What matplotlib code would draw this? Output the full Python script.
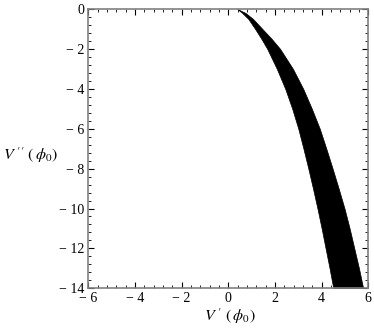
import matplotlib
matplotlib.use("Agg")
import matplotlib.pyplot as plt
from matplotlib.ticker import MultipleLocator

# Boundary of the black allowed region
y_levels = [0, -0.2, -0.5, -1, -1.5, -2, -3, -4, -5, -6, -7, -8, -9, -10, -11, -12, -13, -14]
x_left = [0.39, 0.60, 0.86, 1.15, 1.42, 1.67, 2.08, 2.44, 2.74, 3.00, 3.22, 3.43, 3.63,
          3.82, 4.00, 4.17, 4.34, 4.50]
x_right = [0.39, 0.74, 1.06, 1.46, 1.86, 2.22, 2.77, 3.21, 3.58, 3.92, 4.20, 4.47, 4.73,
           4.98, 5.20, 5.40, 5.60, 5.78]

x_ticks = [-6, -4, -2, 0, 2, 4, 6]
x_ticklabels = ["\u2212 6", "\u2212 4", "\u2212 2", "0", "2", "4", "6"]
y_ticks = [0, -2, -4, -6, -8, -10, -12, -14]
y_ticklabels = ["0", "\u2212 2", "\u2212 4", "\u2212 6", "\u2212 8", "\u2212 10", "\u2212 12", "\u2212 14"]

plt.rcParams["mathtext.fontset"] = "stix"
plt.rcParams["font.family"] = ["Liberation Serif", "DejaVu Serif"]

fig = plt.figure(figsize=(3.74, 3.31), dpi=100)
ax = fig.add_axes([88.3 / 374, 1 - 288.3 / 331, 280 / 374, 279.3 / 331])

ax.fill_betweenx(y_levels, x_left, x_right, facecolor="black", linewidth=0.5,
                 edgecolor="black", joinstyle="round")

ax.set_xlim(-6, 6)
ax.set_ylim(-14, 0)
ax.set_xticks(x_ticks)
ax.set_xticklabels(x_ticklabels)
ax.set_yticks(y_ticks)
ax.set_yticklabels(y_ticklabels)
ax.xaxis.set_minor_locator(MultipleLocator(0.4))
ax.yaxis.set_minor_locator(MultipleLocator(0.4))
ax.tick_params(which="both", direction="in", top=True, right=True, color="black")
ax.tick_params(which="major", length=4.5, width=0.8, labelsize=10, pad=3)
ax.tick_params(which="minor", length=2.5, width=0.6)
for s in ax.spines.values():
    s.set_color("#808080")
    s.set_linewidth(1.2)

fig.text(230 / 374, 1 - 316 / 331, r"$V\ '\ (\,\phi_0)$", ha="center", va="center", fontsize=11.5)
fig.text(3 / 374, 1 - 155 / 331, r"$V\ ''\ (\,\phi_0)$", ha="left", va="center", fontsize=11.5)

fig.savefig("out.png", dpi=100)
